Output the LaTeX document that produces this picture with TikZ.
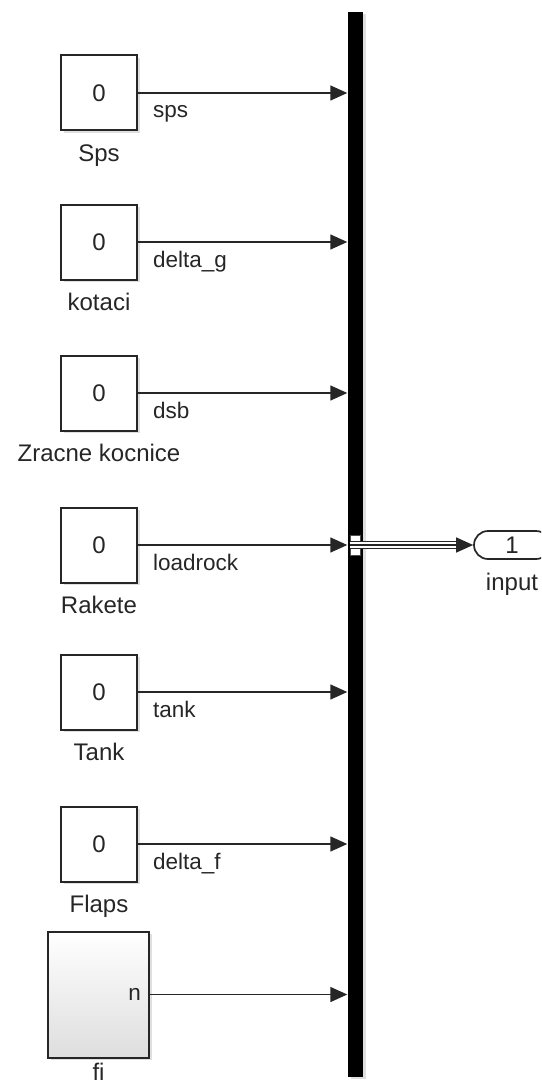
\documentclass[tikz,border=0pt]{standalone}
\usepackage{fontspec}
\setmainfont{Liberation Sans}
\usetikzlibrary{arrows.meta,shadows}

\begin{document}
\begin{tikzpicture}[x=1pt,y=-1pt,
  every node/.style={inner sep=0pt, text=black!85},
  const/.style={draw=black!85, line width=2pt, fill=white, minimum width=76pt, minimum height=75pt,
    font=\fontsize{24}{28}\selectfont, drop shadow={shadow xshift=2.5pt, shadow yshift=-2.5pt, opacity=0.25}},
  subsys/.style={draw=black!85, line width=2pt, top color=white, bottom color=black!13, minimum width=101pt, minimum height=126pt,
    drop shadow={shadow xshift=2.5pt, shadow yshift=-2.5pt, opacity=0.25}},
  blkname/.style={anchor=base, font=\fontsize{24}{28}\selectfont},
  signame/.style={anchor=base west, font=\fontsize{22.5}{26}\selectfont},
  sig/.style={draw=black!85, line width=1.4pt, -{Triangle[length=17pt, width=15pt]}},
  busbar/.style={fill=black, minimum width=15pt, minimum height=1065pt,
    drop shadow={shadow xshift=3pt, shadow yshift=-2pt, opacity=0.25}},
  outport/.style={draw=black!85, line width=1.7pt, fill=white, rounded corners=14pt, minimum width=76pt, minimum height=28pt,
    font=\fontsize{24}{28}\selectfont}
]
\useasboundingbox (0,0) rectangle (541,1086);
\clip (0,0) rectangle (541,1086);
\node[busbar] (bus) at (355,544.5) {};
\node[fill=white, draw=black!70, line width=0.7pt, minimum width=10pt, minimum height=20pt] (mux) at (355,545) {};
\node[outport] (out) at (512,545) {1};
\node[blkname] (outname) at ([shift={(0,31)}]out.south) {input};
\draw[draw=black!85, line width=1.4pt, double distance=6pt] (mux.west) -- ([xshift=-16pt]out.west);
\draw[sig] (mux.west) -- (out.west);
\node[const] (sps) at (99,93) {0};
\node[blkname] (spsname) at ([shift={(0,30)}]sps.south) {Sps};
\node[signame] (spssig) at ([shift={(15,25)}]sps.east) {sps};
\draw[sig] (sps.east) -- (sps.east -| bus.west);
\node[const] (kot) at (99,242) {0};
\node[blkname] (kotname) at ([shift={(0,30)}]kot.south) {kotaci};
\node[signame] (kotsig) at ([shift={(15,25)}]kot.east) {delta\_g};
\draw[sig] (kot.east) -- (kot.east -| bus.west);
\node[const] (zk) at (99,393) {0};
\node[blkname] (zkname) at ([shift={(0,30)}]zk.south) {Zracne kocnice};
\node[signame] (zksig) at ([shift={(15,25)}]zk.east) {dsb};
\draw[sig] (zk.east) -- (zk.east -| bus.west);
\node[const] (rak) at (99,545) {0};
\node[blkname] (rakname) at ([shift={(0,30)}]rak.south) {Rakete};
\node[signame] (raksig) at ([shift={(15,25)}]rak.east) {loadrock};
\draw[sig] (rak.east) -- (rak.east -| bus.west);
\node[const] (tank) at (99,692) {0};
\node[blkname] (tankname) at ([shift={(0,30)}]tank.south) {Tank};
\node[signame] (tanksig) at ([shift={(15,25)}]tank.east) {tank};
\draw[sig] (tank.east) -- (tank.east -| bus.west);
\node[const] (flaps) at (99,844) {0};
\node[blkname] (flapsname) at ([shift={(0,30)}]flaps.south) {Flaps};
\node[signame] (flapssig) at ([shift={(15,25)}]flaps.east) {delta\_f};
\draw[sig] (flaps.east) -- (flaps.east -| bus.west);
\node[subsys] (fi) at (98.5,994.5) {};
\node[signame, anchor=east] (fiport) at ([xshift=-9pt]fi.east) {n};
\node[blkname] (finame) at ([shift={(0,22)}]fi.south) {fi};
\draw[sig] (fi.east) -- (fi.east -| bus.west);
\end{tikzpicture}
\end{document}
